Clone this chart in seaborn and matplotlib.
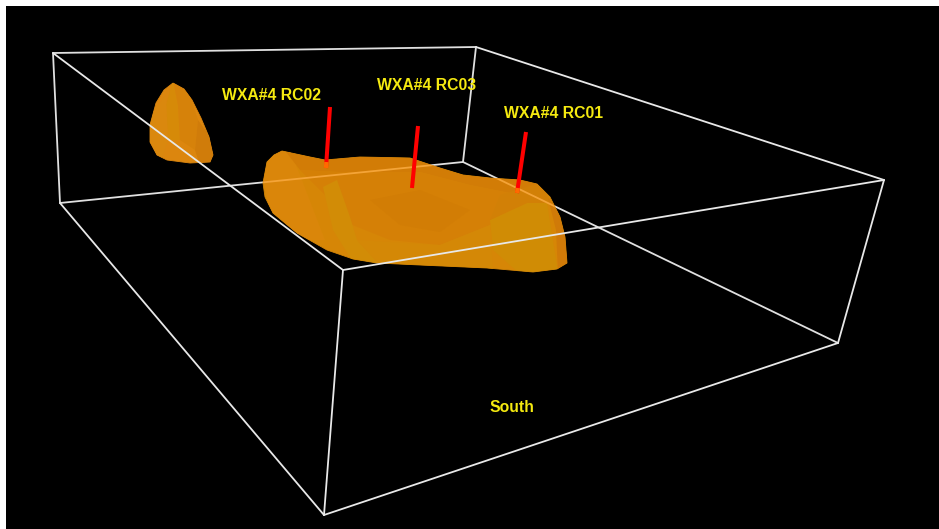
import pandas as pd
import seaborn as sns
import matplotlib.pyplot as plt
from matplotlib.patches import PathPatch
from matplotlib.path import Path

sns.set_style("dark")
plt.rcParams['font.family'] = ['Liberation Sans', 'DejaVu Sans']

# box corners
corners = {
    'A': (53, 53), 'B': (476, 47), 'C': (884, 180), 'D': (343, 270),
    'E': (60, 203), 'F': (463, 162), 'G': (838, 343), 'H': (324, 515),
}
back_edges = ['AB', 'AE', 'BF', 'EF', 'FG']
front_edges = ['BC', 'CD', 'DA', 'DH', 'CG', 'GH', 'HE']
tinted_edges = ['EF', 'FG']

# ore bodies
main_x = [263, 267, 274, 282, 310, 325, 360, 410, 440, 463, 490, 520, 537, 550, 560, 565, 567, 557, 533, 487, 420, 377, 353, 327, 297, 273, 265]
main_y = [183, 162, 155, 151, 157, 160, 157, 158, 168, 175, 178, 180, 184, 197, 217, 237, 263, 269, 272, 268, 265, 263, 259, 250, 233, 213, 197]
small_x = [173, 184, 192, 201, 209, 213, 210, 190, 167, 157, 150, 150, 156, 164]
small_y = [83, 89, 100, 118, 137, 155, 162, 163, 160, 155, 142, 125, 103, 90]
main_facets = [
    ('#DA860A', [258, 290, 300, 325, 300, 270], [150, 150, 175, 240, 240, 215]),
    ('#D27C06', [283, 360, 440, 520, 545, 520, 470, 420, 340, 300], [148, 150, 160, 172, 190, 195, 185, 172, 172, 170]),
    ('#D58006', [300, 340, 420, 470, 520, 490, 440, 390, 340, 325], [170, 172, 172, 185, 195, 225, 245, 240, 220, 195]),
    ('#D27D05', [370, 420, 470, 440, 400], [200, 190, 210, 232, 225]),
    ('#D28C06', [323, 337, 350, 357, 380, 353, 333], [187, 180, 217, 240, 265, 262, 230]),
    ('#D48806', [357, 440, 490, 493, 420, 380], [240, 245, 225, 270, 268, 265]),
    ('#D08C05', [490, 527, 547, 558, 520, 493], [220, 203, 203, 272, 274, 250]),
    ('#D28006', [500, 540, 552, 527, 490], [195, 183, 203, 203, 220]),
    ('#D07A08', [548, 572, 572, 558, 556], [198, 225, 272, 272, 230]),
]
small_facets = [
    ('#D68A08', [173, 178, 180, 168, 166], [80, 105, 140, 140, 105]),
    ('#D6820A', [173, 190, 198, 195, 180, 178], [80, 95, 120, 150, 140, 105]),
    ('#D07C0A', [198, 216, 216, 200, 195], [120, 145, 166, 166, 150]),
    ('#DA880E', [146, 166, 168, 160, 148], [120, 95, 140, 165, 155]),
]

# drill holes
hole_names = ['RC02', 'RC03', 'RC01']
hole_x = [[330, 326], [418, 412], [526, 517]]
hole_y = [[107, 168], [126, 188], [132, 193]]
hole_entry_y = [162, 205, 188]
label_text = ['WXA#4 RC02', 'WXA#4 RC03', 'WXA#4 RC01', 'South']
label_x = [272, 427, 554, 512]
label_y = [95, 86, 113, 407]


def edge_frame(edges):
    rows = []
    for e in edges:
        for c in e:
            rows.append({'edge': e, 'x': corners[c][0], 'y': corners[c][1]})
    return pd.DataFrame(rows)


def draw_edges(ax, edges, color, z, clip=None):
    before = len(ax.lines)
    sns.lineplot(data=edge_frame(edges), x='x', y='y', units='edge', estimator=None,
                 sort=False, color=color, linewidth=1.3, ax=ax)
    for ln in ax.lines[before:]:
        ln.set_zorder(z)
        if clip is not None:
            ln.set_clip_path(clip)


def draw_body(ax, xs, ys, facets, base):
    outline = PathPatch(Path(list(zip(xs, ys)) + [(xs[0], ys[0])]), facecolor=base, edgecolor=base,
                        linewidth=0.6, zorder=3)
    ax.add_patch(outline)
    for col, fx, fy in facets:
        f = ax.fill(fx, fy, color=col, linewidth=0, zorder=3.1)[0]
        f.set_clip_path(outline)
    return outline


fig = plt.figure(figsize=(9.39, 5.29), dpi=100, facecolor='white')
ax = fig.add_axes([6 / 939, 0, 933 / 939, 523 / 529])
ax.set_facecolor('black')

draw_edges(ax, back_edges, '#E0E0E0', 2)
main_body = draw_body(ax, main_x, main_y, main_facets, '#D68606')
draw_body(ax, small_x, small_y, small_facets, '#DC860E')
draw_edges(ax, tinted_edges, '#F4A438', 4, clip=main_body)

# holes: red above the surface, orange where they enter it
for name, hx, hy, ey in zip(hole_names, hole_x, hole_y, hole_entry_y):
    hole = pd.DataFrame({'x': hx, 'y': hy})
    before = len(ax.lines)
    sns.lineplot(data=hole, x='x', y='y', estimator=None, sort=False, color='#FF0000',
                 linewidth=2.9, ax=ax)
    ax.lines[before].set_zorder(5)
    ax.lines[before].set_solid_capstyle('butt')
    if ey < hy[1]:
        t = (ey - hy[0]) / (hy[1] - hy[0])
        tip = pd.DataFrame({'x': [hx[0] + t * (hx[1] - hx[0]), hx[1]], 'y': [ey, hy[1]]})
        before = len(ax.lines)
        sns.lineplot(data=tip, x='x', y='y', estimator=None, sort=False, color='#FF6A00',
                     linewidth=3.1, ax=ax)
        ax.lines[before].set_zorder(5.1)
        ax.lines[before].set_solid_capstyle('butt')

draw_edges(ax, front_edges, '#E8E8E8', 6)

for txt, tx, ty in zip(label_text, label_x, label_y):
    ax.text(tx, ty, txt, color='#F5EA10', fontsize=11.3, fontweight='bold',
            ha='center', va='center', zorder=7)

ax.set_xlim(6, 939)
ax.set_ylim(529, 6)
ax.set_xlabel('')
ax.set_ylabel('')
ax.set_xticks([])
ax.set_yticks([])
ax.grid(False)
for s in ax.spines.values():
    s.set_visible(False)

fig.savefig('out.png', dpi=100, facecolor='white')
